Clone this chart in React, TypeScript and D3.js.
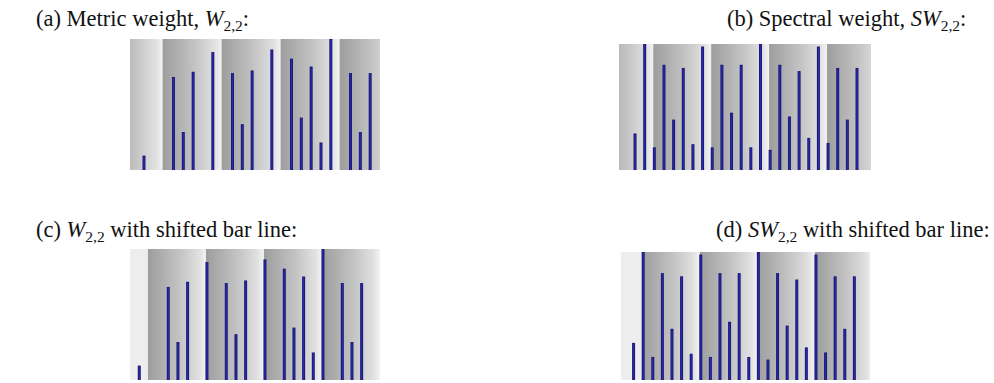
import React, { useEffect, useRef } from 'react'
import * as d3 from 'd3'

// positions are counted in eighth-note steps from the first full bar line
const metricOnsets = [-2, 1, 2, 3, 5, 7, 8, 9, 11, 13, 14, 15, 16, 17, 19, 20, 21]
const metricWeights = [11, 71, 29, 75, 90, 74, 35, 76, 92, 85, 40, 79, 21, 100, 74, 29, 74]

const spectralSteps = [-2, -1, 0, 1, 2, 3, 4, 5, 6, 7, 8, 9, 10, 11, 12, 13, 14, 15, 16, 17, 18, 19, 20, 21]
const spectralWeights = [29, 100, 18, 83.5, 40, 81, 20.5, 98, 18, 83.5, 45.5, 83.5, 18, 100, 16, 83.5, 42.5, 78.5, 25.5, 98, 21.5, 81, 40, 81]

const barLines = [-6, 0, 6, 12, 18]
const shiftedBarLines = [-7, -1, 5, 11, 17]
const measureLength = 6

const titles = [
  ['(a) Metric weight, ', 'W', '2,2', ':'],
  ['(b) Spectral weight, ', 'SW', '2,2', ':'],
  ['(c) ', 'W', '2,2', ' with shifted bar line:'],
  ['(d) ', 'SW', '2,2', ' with shifted bar line:'],
]

const panels = [
  { steps: metricOnsets, values: metricWeights, lines: barLines, flatPickup: false,
    domain: [-3.42, 22.0], left: 130, right: 380, top: 39, bottom: 170, tx: 36, ty: 26 },
  { steps: spectralSteps, values: spectralWeights, lines: barLines, flatPickup: false,
    domain: [-3.66, 22.45], left: 619, right: 871, top: 44, bottom: 170, tx: 727, ty: 26 },
  { steps: metricOnsets, values: metricWeights, lines: shiftedBarLines, flatPickup: true,
    domain: [-2.96, 22.9], left: 130, right: 380, top: 249, bottom: 380, tx: 36, ty: 237 },
  { steps: spectralSteps, values: spectralWeights, lines: shiftedBarLines, flatPickup: true,
    domain: [-3.31, 22.63], left: 621, right: 870, top: 252, bottom: 380, tx: 716, ty: 237 },
]

export default function App() {
  const ref = useRef<SVGSVGElement>(null)

  useEffect(() => {
    const svg = d3.select(ref.current)
    svg.selectAll('*').remove()
    const defs = svg.append('defs')

    const grad = defs.append('linearGradient').attr('id', 'measure')
    grad.append('stop').attr('offset', '0%').attr('stop-color', '#9d9d9d')
    grad.append('stop').attr('offset', '55%').attr('stop-color', '#c4c4c4')
    grad.append('stop').attr('offset', '88%').attr('stop-color', '#e0e0e0')
    grad.append('stop').attr('offset', '100%').attr('stop-color', '#f3f3f3')

    defs.append('filter').attr('id', 'glow')
      .attr('x', '-300%').attr('y', '-10%').attr('width', '700%').attr('height', '120%')
      .append('feGaussianBlur').attr('stdDeviation', 1.4)

    panels.forEach((p, i) => {
      const x = d3.scaleLinear().domain(p.domain).range([p.left, p.right])
      const y = d3.scaleLinear().domain([0, 100]).range([p.bottom, p.top])

      defs.append('clipPath').attr('id', 'clip' + i)
        .append('rect')
        .attr('x', p.left).attr('y', p.top)
        .attr('width', p.right - p.left).attr('height', p.bottom - p.top)

      const g = svg.append('g').attr('clip-path', `url(#clip${i})`)

      g.append('rect')
        .attr('x', p.left).attr('y', p.top)
        .attr('width', p.right - p.left).attr('height', p.bottom - p.top)
        .attr('fill', '#ededed')

      g.selectAll('.measure')
        .data(p.lines)
        .enter()
        .append('rect')
        .attr('class', 'measure')
        .attr('x', (d) => x(d) - 1)
        .attr('y', p.top)
        .attr('width', (d) => x(d + measureLength) - x(d))
        .attr('height', p.bottom - p.top)
        .attr('fill', (d, k) => (p.flatPickup && k === 0 ? '#ededed' : 'url(#measure)'))

      const data = p.steps.map((s, k) => ({ step: s, value: p.values[k] }))

      // light blue halo round each bar
      g.selectAll('.halo')
        .data(data)
        .enter()
        .append('line')
        .attr('class', 'halo')
        .attr('x1', (d) => x(d.step)).attr('x2', (d) => x(d.step))
        .attr('y1', y(0)).attr('y2', (d) => y(d.value) - 2)
        .attr('stroke', '#b4b4ff')
        .attr('stroke-width', 7)
        .attr('opacity', 0.85)
        .attr('filter', 'url(#glow)')

      g.selectAll('.bar')
        .data(data)
        .enter()
        .append('line')
        .attr('class', 'bar')
        .attr('x1', (d) => x(d.step)).attr('x2', (d) => x(d.step))
        .attr('y1', y(0)).attr('y2', (d) => y(d.value))
        .attr('stroke', '#19197a')
        .attr('stroke-width', 3)

      g.selectAll('.core')
        .data(data)
        .enter()
        .append('line')
        .attr('class', 'core')
        .attr('x1', (d) => x(d.step)).attr('x2', (d) => x(d.step))
        .attr('y1', y(0)).attr('y2', (d) => y(d.value) + 1)
        .attr('stroke', '#2a2aa8')
        .attr('stroke-width', 1.2)

      const t = titles[i]
      const text = svg.append('text')
        .attr('x', p.tx).attr('y', p.ty)
        .attr('font-family', '"Liberation Serif", serif')
        .attr('font-size', 22.5)
        .attr('fill', '#111')
      text.append('tspan').text(t[0])
      text.append('tspan').attr('font-style', 'italic').text(t[1])
      text.append('tspan').attr('font-size', 15.5).attr('dy', 4.5).text(t[2])
      text.append('tspan').attr('dy', -4.5).text(t[3])
    })
  }, [])

  return (
    <svg ref={ref} width={994} height={383}
      style={{ position: 'absolute', left: 0, top: 0, background: '#fff' }}>
    </svg>
  )
}
